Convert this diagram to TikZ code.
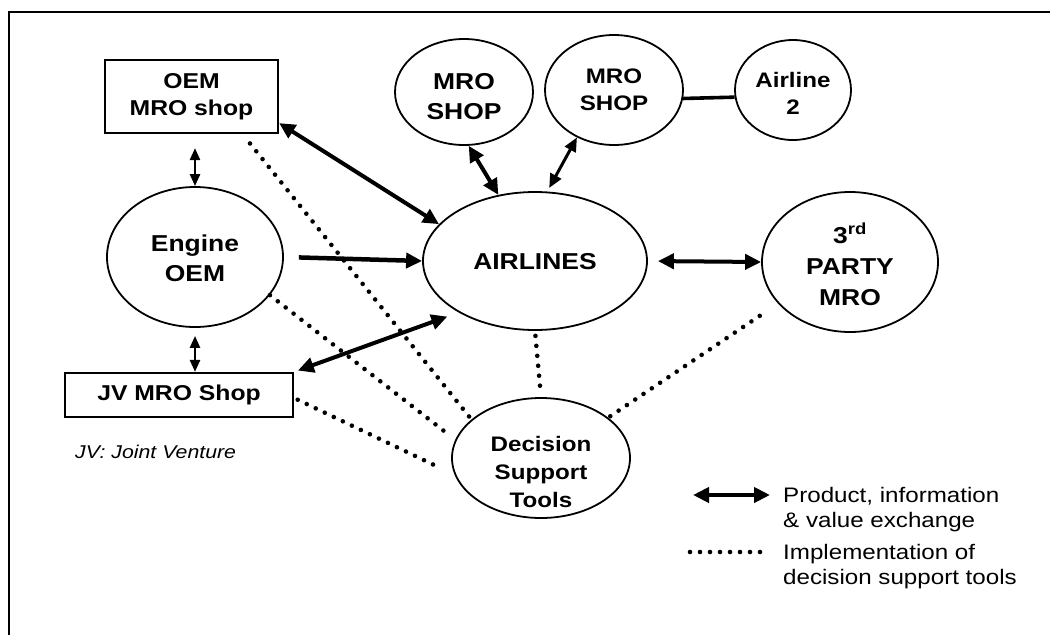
\documentclass[tikz,border=0pt]{standalone}
\usepackage{fontspec}
\setmainfont{Liberation Sans}[FakeStretch=1.15]
\usetikzlibrary{arrows.meta,shapes.geometric}
\begin{document}
\begin{tikzpicture}[x=1pt,y=-1pt,
  oval/.style={ellipse, draw, line width=1.8pt, inner sep=0pt},
  shop/.style={rectangle, draw, line width=2.2pt, inner sep=0pt, align=center,
    font=\fontsize{21.5}{27}\selectfont\bfseries},
  lbl/.style={inner sep=0pt, align=center, font=\fontsize{23}{30}\selectfont\bfseries},
  lblsmall/.style={inner sep=0pt, align=center, font=\fontsize{21}{27}\selectfont\bfseries},
  note/.style={inner sep=0pt, align=left, font=\fontsize{21}{25}\selectfont},
  bigx/.style={line width=4pt, {Triangle[length=16pt,width=15pt]}-{Triangle[length=16pt,width=15pt]}},
  midx/.style={line width=3pt, {Triangle[length=14pt,width=12pt]}-{Triangle[length=14pt,width=12pt]}},
  smallx/.style={line width=2.5pt, {Triangle[length=12pt,width=10pt]}-{Triangle[length=12pt,width=10pt]}},
  onex/.style={line width=4.5pt, -{Triangle[length=16pt,width=15pt]}},
  link/.style={line width=3.6pt},
  dots/.style={line width=4.6pt, line cap=round, dash pattern=on 0pt off 10pt},
]
\useasboundingbox (0,0) rectangle (1050,635);

% frame
\draw[line width=2pt] (9,635) -- (9,12) -- (1050,12);

% shops drawn as boxes
\node[shop, minimum width=173pt, minimum height=73pt] (oemmro) at (191.5,96.5) {OEM\\MRO shop};
\node[shop, minimum width=228pt, minimum height=44pt] (jv) at (179,395) {JV MRO Shop};

% ovals and their labels
\node[oval, minimum width=176pt, minimum height=140pt] (eng) at (195,257) {};
\node[lbl] (engT) at (195,258) {Engine\\OEM};

\node[oval, minimum width=224pt, minimum height=138pt] (air) at (535,261) {};
\node[lbl] (airT) at (535,262) {AIRLINES};

\node[oval, minimum width=138pt, minimum height=106pt] (mroA) at (464,92) {};
\node[lbl] (mroAT) at (464,97) {MRO\\SHOP};

\node[oval, minimum width=138pt, minimum height=110pt] (mroB) at (614,90) {};
\node[lblsmall] (mroBT) at (614,90) {MRO\\SHOP};

\node[oval, minimum width=116pt, minimum height=100pt] (al2) at (793,90) {};
\node[lblsmall] (al2T) at (793,93) {Airline\\2};

\node[oval, minimum width=176pt, minimum height=140pt] (tpm) at (850,262) {};
\node[lbl, font=\fontsize{23}{31}\selectfont\bfseries] (tpmT) at (850,264) {3\textsuperscript{rd}\\PARTY\\MRO};

\node[oval, minimum width=178pt, minimum height=120pt] (dst) at (541,458) {};
\node[lblsmall, font=\fontsize{21}{28}\selectfont\bfseries] (dstT) at (541,472) {Decision\\Support\\Tools};

% exchange arrows
\draw[bigx] ([yshift=11pt]oemmro.south east) -- (air.159);
\draw[onex, shorten <=15pt] (eng.east) -- (air.west);
\draw[bigx] (mroA.-85) -- (air.119);
\draw[midx, shorten >=4pt] (mroB.-128) -- (air.80);
\draw[bigx, shorten <=4pt, shorten >=12pt] (jv.north east) -- (air.214);
\draw[bigx, shorten <=10pt] (air.east) -- (tpm.west);
\draw[smallx, shorten >=14pt] (eng.north) -- (eng.north |- oemmro.south);
\draw[smallx, shorten <=8pt] (eng.south) -- (eng.south |- jv.north);
\draw[link] (mroB.-7) -- (al2.187);

% decision support links
\draw[dots, shorten <=12pt] ([xshift=51pt]oemmro.south) -- (dst.151);
\draw[dots, shorten >=12pt] (eng.-27) -- (dst.168);
\draw[dots, shorten <=4pt, shorten >=15pt] ([yshift=-3pt]jv.east) -- (dst.191);
\draw[dots, shorten <=5pt, shorten >=3pt] (air.south) -- (dst.north);
\draw[dots, shorten <=22pt] (tpm.210) -- (dst.31);

% note
\node[inner sep=0pt, anchor=base west, font=\fontsize{18.5}{22}\selectfont\itshape] (jvnote) at (75,458) {JV: Joint Venture};

% legend
\coordinate (legA1) at (693,495);
\coordinate (legA2) at (770,495);
\draw[bigx] (legA1) -- (legA2);
\node[note, anchor=west] (legAT) at (783,510) {Product, information\\\& value exchange};
\coordinate (legB1) at (690,552);
\coordinate (legB2) at (768,552);
\draw[dots] (legB1) -- (legB2);
\node[note, anchor=west] (legBT) at (783,567) {Implementation of\\decision support tools};
\end{tikzpicture}
\end{document}
